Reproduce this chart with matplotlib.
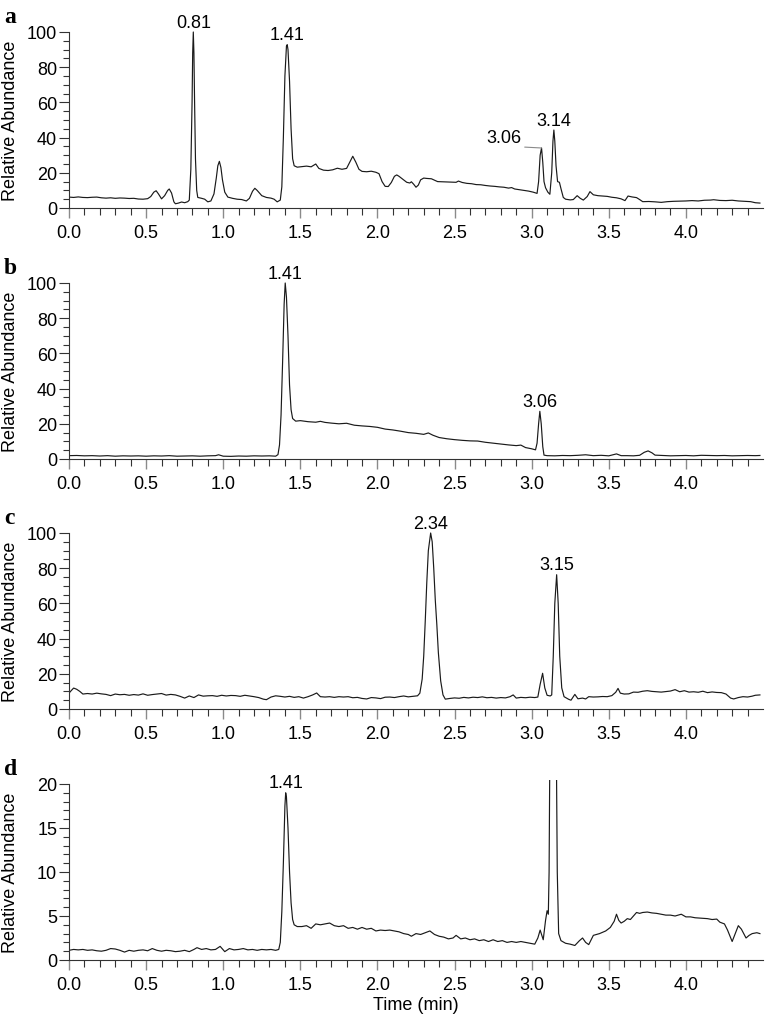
import numpy as np
import matplotlib.pyplot as plt
from matplotlib.ticker import FixedLocator

plt.rcParams['font.family'] = ['Liberation Sans', 'DejaVu Sans']

# chromatogram traces, (time in min, relative abundance)
trace_a = np.array([
    (0.00, 6.2), (0.03, 6.0), (0.06, 6.3), (0.09, 6.0), (0.12, 5.9), (0.15, 6.1),
    (0.18, 6.2), (0.21, 5.8), (0.24, 5.6), (0.27, 5.8), (0.30, 5.5), (0.33, 5.7),
    (0.36, 5.6), (0.39, 5.4), (0.42, 5.5), (0.45, 5.1), (0.48, 5.0), (0.51, 5.3),
    (0.53, 6.5), (0.55, 9.0), (0.565, 9.8), (0.58, 8.0), (0.60, 5.2), (0.62, 7.0),
    (0.64, 10.0), (0.65, 10.8), (0.665, 8.5), (0.68, 3.5), (0.69, 2.4), (0.71, 2.8),
    (0.73, 3.4), (0.75, 3.0), (0.77, 3.6), (0.78, 4.5), (0.79, 22), (0.798, 60),
    (0.802, 88), (0.806, 100), (0.810, 88), (0.814, 62), (0.82, 28), (0.828, 10),
    (0.835, 6.0), (0.86, 5.5), (0.88, 5.0), (0.90, 3.5), (0.92, 4.0), (0.94, 8.0),
    (0.955, 17), (0.965, 24), (0.975, 26.5), (0.985, 23), (0.995, 16), (1.01, 9.0),
    (1.03, 6.2), (1.06, 5.5), (1.09, 5.0), (1.12, 4.8), (1.15, 4.0), (1.17, 5.5),
    (1.19, 9.5), (1.205, 11.2), (1.22, 10.0), (1.25, 7.0), (1.28, 6.0), (1.31, 5.6),
    (1.33, 5.0), (1.35, 3.5), (1.37, 4.5), (1.38, 12), (1.39, 40), (1.40, 75),
    (1.41, 92), (1.415, 92.8), (1.42, 90), (1.43, 72), (1.44, 45), (1.45, 28),
    (1.46, 24), (1.48, 23.2), (1.51, 23.5), (1.54, 23.8), (1.57, 23.4), (1.60, 25),
    (1.62, 22.5), (1.65, 21.5), (1.68, 21.3), (1.71, 21.7), (1.74, 22.6), (1.77, 22.0),
    (1.80, 22.5), (1.82, 26), (1.84, 29.4), (1.86, 26), (1.88, 22), (1.90, 20.8),
    (1.93, 20.6), (1.96, 20.9), (1.99, 20.3), (2.01, 19.5), (2.03, 15), (2.05, 12.3),
    (2.07, 12.2), (2.09, 14.5), (2.11, 18.0), (2.125, 18.8), (2.14, 18.0), (2.17, 16.0),
    (2.19, 14.6), (2.21, 14.2), (2.22, 14.9), (2.235, 13.5), (2.25, 11.8), (2.265, 13.0),
    (2.28, 16.0), (2.30, 17.0), (2.32, 16.8), (2.35, 16.6), (2.37, 15.8), (2.39, 15.0),
    (2.42, 14.9), (2.45, 14.8), (2.48, 14.7), (2.51, 14.6), (2.525, 15.3), (2.55, 14.5),
    (2.58, 14.0), (2.61, 13.8), (2.64, 13.3), (2.67, 13.2), (2.70, 12.8), (2.73, 12.5),
    (2.76, 12.3), (2.79, 12.0), (2.82, 11.8), (2.85, 11.3), (2.87, 11.6), (2.89, 10.8),
    (2.92, 10.4), (2.95, 10.0), (2.98, 9.6), (3.01, 9.0), (3.035, 8.3), (3.045, 15),
    (3.055, 30), (3.064, 34.1), (3.072, 26), (3.08, 15), (3.09, 11.5), (3.105, 9),
    (3.118, 7.8), (3.13, 20), (3.138, 38), (3.144, 44.3), (3.15, 38), (3.158, 24),
    (3.168, 15), (3.18, 14.6), (3.19, 11), (3.205, 6), (3.22, 5.0), (3.25, 4.6),
    (3.27, 4.8), (3.295, 7.0), (3.315, 5.5), (3.335, 4.5), (3.36, 6.5), (3.378, 9.3),
    (3.40, 7.5), (3.43, 7.0), (3.46, 6.8), (3.49, 6.6), (3.52, 6.1), (3.55, 5.8),
    (3.58, 5.2), (3.605, 4.2), (3.625, 6.8), (3.65, 6.3), (3.68, 5.9), (3.70, 4.8),
    (3.72, 3.6), (3.76, 3.7), (3.80, 3.5), (3.84, 3.2), (3.88, 3.6), (3.92, 3.8),
    (3.96, 3.9), (4.00, 4.0), (4.04, 4.2), (4.08, 4.0), (4.12, 4.4), (4.16, 4.5),
    (4.18, 4.7), (4.22, 4.3), (4.26, 4.2), (4.30, 4.4), (4.34, 4.0), (4.38, 3.8),
    (4.42, 3.6), (4.45, 3.0), (4.48, 2.8),
])

trace_b = np.array([
    (0.00, 1.9), (0.05, 2.0), (0.10, 1.8), (0.15, 1.9), (0.20, 1.7), (0.25, 1.9),
    (0.30, 1.6), (0.35, 1.8), (0.40, 1.7), (0.45, 1.8), (0.50, 1.6), (0.55, 1.8),
    (0.60, 1.7), (0.65, 1.9), (0.70, 1.6), (0.75, 1.7), (0.80, 1.8), (0.85, 1.6),
    (0.90, 1.8), (0.95, 1.9), (0.97, 2.4), (1.00, 1.6), (1.05, 1.5), (1.10, 1.7),
    (1.15, 1.6), (1.20, 1.8), (1.25, 1.7), (1.30, 1.8), (1.34, 1.6), (1.355, 2.5),
    (1.365, 8), (1.375, 25), (1.385, 55), (1.395, 88), (1.402, 100), (1.41, 92),
    (1.42, 70), (1.43, 42), (1.44, 28), (1.45, 23), (1.47, 21.5), (1.50, 21.8),
    (1.55, 21.2), (1.60, 20.9), (1.63, 21.4), (1.66, 20.8), (1.70, 20.4), (1.75, 20.0),
    (1.80, 20.3), (1.85, 19.2), (1.90, 18.8), (1.95, 18.5), (2.00, 18.0), (2.05, 17.0),
    (2.10, 16.5), (2.15, 15.8), (2.20, 15.0), (2.25, 14.6), (2.30, 14.0), (2.33, 14.8),
    (2.36, 13.5), (2.40, 12.2), (2.45, 11.5), (2.50, 11.0), (2.55, 10.6), (2.60, 10.3),
    (2.65, 10.2), (2.70, 9.5), (2.75, 9.0), (2.80, 8.5), (2.85, 8.0), (2.90, 7.6),
    (2.93, 7.9), (2.96, 6.5), (3.00, 5.8), (3.025, 5.2), (3.035, 9), (3.045, 20),
    (3.053, 27.1), (3.062, 20), (3.072, 7), (3.08, 2.2), (3.10, 1.9), (3.15, 1.8),
    (3.20, 2.0), (3.25, 1.9), (3.30, 2.1), (3.35, 2.4), (3.40, 1.9), (3.45, 2.1),
    (3.50, 1.8), (3.55, 2.9), (3.58, 1.9), (3.62, 1.9), (3.66, 1.8), (3.70, 2.1),
    (3.73, 3.8), (3.755, 4.6), (3.78, 3.5), (3.80, 2.2), (3.85, 2.0), (3.90, 1.8),
    (3.95, 1.9), (4.00, 2.0), (4.05, 1.8), (4.10, 2.1), (4.15, 2.0), (4.20, 1.9),
    (4.25, 2.0), (4.30, 1.8), (4.35, 1.9), (4.40, 2.0), (4.45, 1.9), (4.48, 2.0),
])

trace_c = np.array([
    (0.00, 9.0), (0.015, 10.5), (0.03, 11.9), (0.05, 11.2), (0.07, 10.0), (0.09, 8.5),
    (0.12, 8.8), (0.15, 8.5), (0.18, 9.0), (0.21, 8.6), (0.24, 8.3), (0.27, 7.6),
    (0.30, 8.5), (0.33, 8.1), (0.36, 8.3), (0.39, 7.8), (0.42, 8.2), (0.45, 7.9),
    (0.48, 8.6), (0.51, 7.8), (0.54, 8.2), (0.57, 8.5), (0.60, 8.8), (0.63, 7.9),
    (0.66, 8.3), (0.69, 8.0), (0.72, 7.2), (0.75, 6.2), (0.78, 7.4), (0.81, 6.5),
    (0.84, 8.0), (0.87, 7.3), (0.90, 7.5), (0.93, 7.6), (0.96, 7.2), (0.99, 7.8),
    (1.02, 7.4), (1.05, 7.7), (1.08, 7.6), (1.11, 7.2), (1.14, 7.8), (1.17, 7.4),
    (1.20, 7.0), (1.23, 6.5), (1.26, 5.6), (1.28, 5.3), (1.31, 6.8), (1.34, 7.5),
    (1.37, 7.2), (1.40, 6.8), (1.43, 7.2), (1.46, 6.6), (1.49, 7.0), (1.52, 6.2),
    (1.55, 7.0), (1.58, 8.0), (1.606, 9.1), (1.63, 7.0), (1.66, 6.8), (1.69, 7.0),
    (1.72, 6.6), (1.75, 7.0), (1.78, 6.8), (1.81, 7.0), (1.84, 6.4), (1.87, 6.6),
    (1.90, 6.0), (1.93, 5.7), (1.96, 6.5), (1.99, 6.3), (2.02, 5.9), (2.05, 6.7),
    (2.08, 6.8), (2.11, 6.5), (2.14, 7.0), (2.17, 7.4), (2.20, 6.9), (2.23, 7.2),
    (2.26, 7.5), (2.275, 9), (2.29, 17), (2.30, 30), (2.31, 50), (2.32, 72),
    (2.33, 90), (2.345, 100), (2.355, 95), (2.365, 80), (2.375, 62), (2.385, 48),
    (2.395, 32), (2.41, 16), (2.425, 8), (2.44, 5.6), (2.47, 6.0), (2.50, 6.3),
    (2.53, 6.1), (2.56, 6.6), (2.59, 6.3), (2.62, 6.7), (2.65, 6.5), (2.68, 6.9),
    (2.71, 6.4), (2.74, 6.6), (2.77, 6.2), (2.80, 6.5), (2.83, 6.3), (2.86, 7.0),
    (2.88, 8.0), (2.90, 6.2), (2.93, 6.6), (2.96, 6.4), (2.99, 6.7), (3.02, 6.5),
    (3.04, 6.8), (3.055, 14), (3.071, 20.3), (3.085, 12), (3.10, 7.8), (3.12, 7.4),
    (3.13, 8), (3.14, 30), (3.15, 60), (3.162, 76.3), (3.172, 60), (3.182, 30),
    (3.195, 12), (3.21, 7), (3.24, 5.5), (3.255, 5.0), (3.28, 8.3), (3.30, 5.8),
    (3.33, 6.2), (3.35, 5.7), (3.37, 7.0), (3.40, 6.8), (3.43, 6.9), (3.46, 7.1),
    (3.49, 7.0), (3.52, 7.6), (3.545, 9.5), (3.56, 11.7), (3.575, 9.0), (3.60, 8.5),
    (3.63, 8.6), (3.66, 9.6), (3.69, 9.5), (3.72, 10.1), (3.75, 10.4), (3.78, 10.0),
    (3.81, 9.8), (3.84, 9.6), (3.87, 9.9), (3.90, 10.2), (3.93, 11.0), (3.96, 9.8),
    (3.99, 10.4), (4.02, 9.6), (4.05, 9.8), (4.08, 9.5), (4.11, 10.1), (4.14, 9.3),
    (4.17, 9.7), (4.20, 9.4), (4.23, 9.3), (4.26, 8.5), (4.29, 6.2), (4.31, 5.7),
    (4.34, 6.5), (4.37, 7.0), (4.40, 6.8), (4.43, 7.3), (4.45, 7.8), (4.48, 8.0),
])

trace_d = np.array([
    (0.00, 1.1), (0.03, 1.2), (0.06, 1.15), (0.09, 1.2), (0.12, 1.1), (0.15, 1.15),
    (0.18, 1.05), (0.21, 1.0), (0.24, 1.1), (0.27, 1.3), (0.30, 1.25), (0.33, 1.1),
    (0.36, 0.9), (0.39, 1.1), (0.42, 1.0), (0.45, 1.1), (0.48, 1.15), (0.51, 1.05),
    (0.54, 1.3), (0.57, 1.1), (0.60, 1.0), (0.63, 1.1), (0.66, 1.05), (0.69, 0.95),
    (0.72, 1.0), (0.75, 1.1), (0.78, 0.95), (0.81, 1.2), (0.83, 1.4), (0.86, 1.2),
    (0.89, 1.3), (0.92, 1.15), (0.95, 1.2), (0.98, 1.55), (1.01, 0.95), (1.04, 1.3),
    (1.07, 1.15), (1.10, 1.2), (1.13, 1.3), (1.16, 1.15), (1.19, 1.2), (1.22, 1.1),
    (1.25, 1.2), (1.28, 1.15), (1.31, 1.2), (1.34, 1.1), (1.36, 1.2), (1.37, 2.0),
    (1.38, 5.5), (1.39, 11), (1.40, 17.5), (1.405, 19), (1.41, 18.5), (1.42, 15),
    (1.43, 10), (1.44, 6.5), (1.45, 4.6), (1.46, 4.0), (1.48, 3.8), (1.51, 3.8),
    (1.54, 3.9), (1.57, 3.6), (1.60, 4.1), (1.63, 4.0), (1.66, 4.1), (1.69, 4.2),
    (1.72, 3.9), (1.75, 3.8), (1.78, 3.9), (1.81, 3.6), (1.84, 3.7), (1.87, 3.5),
    (1.90, 3.7), (1.93, 3.5), (1.96, 3.6), (1.99, 3.3), (2.02, 3.4), (2.05, 3.35),
    (2.08, 3.4), (2.11, 3.3), (2.14, 3.2), (2.17, 3.0), (2.20, 2.9), (2.22, 2.7),
    (2.25, 3.0), (2.28, 2.9), (2.31, 3.1), (2.34, 3.3), (2.37, 2.9), (2.40, 2.7),
    (2.43, 2.6), (2.46, 2.4), (2.49, 2.5), (2.51, 2.8), (2.54, 2.4), (2.57, 2.5),
    (2.60, 2.3), (2.63, 2.4), (2.66, 2.2), (2.69, 2.3), (2.72, 2.1), (2.75, 2.3),
    (2.78, 2.1), (2.81, 2.2), (2.84, 2.0), (2.87, 2.1), (2.90, 2.0), (2.93, 2.1),
    (2.96, 2.0), (2.99, 1.9), (3.02, 1.8), (3.04, 2.5), (3.055, 3.4), (3.075, 2.3),
    (3.09, 4.5), (3.10, 5.6), (3.108, 5.2), (3.113, 10), (3.118, 24), (3.14, 50),
    (3.16, 24), (3.166, 10), (3.175, 3), (3.19, 2.2), (3.22, 1.9), (3.25, 1.8),
    (3.28, 1.65), (3.31, 2.2), (3.33, 2.5), (3.35, 2.0), (3.37, 1.75), (3.40, 2.8),
    (3.44, 3.0), (3.48, 3.3), (3.51, 3.7), (3.535, 4.4), (3.55, 5.2), (3.565, 4.5),
    (3.58, 4.2), (3.60, 4.4), (3.62, 4.7), (3.64, 4.6), (3.66, 5.0), (3.68, 5.4),
    (3.70, 5.3), (3.72, 5.4), (3.75, 5.45), (3.78, 5.35), (3.81, 5.3), (3.84, 5.2),
    (3.87, 5.1), (3.90, 5.1), (3.93, 5.0), (3.97, 5.2), (4.00, 4.9), (4.03, 4.9),
    (4.06, 4.8), (4.10, 4.75), (4.14, 4.7), (4.17, 4.6), (4.20, 4.65), (4.22, 4.3),
    (4.25, 4.1), (4.27, 3.4), (4.30, 2.1), (4.32, 3.0), (4.34, 3.9), (4.36, 3.5),
    (4.39, 2.5), (4.41, 2.8), (4.43, 3.0), (4.46, 3.1), (4.48, 3.0),
])

# peak labels: (label, time, height)
peaks_a = [('0.81', 0.806, 100), ('1.41', 1.415, 92.8), ('3.14', 3.144, 44.3)]
peaks_b = [('1.41', 1.402, 100), ('3.06', 3.053, 27.1)]
peaks_c = [('2.34', 2.345, 100), ('3.15', 3.162, 76.3)]
peaks_d = [('1.41', 1.405, 19)]

W, H = 767, 1020
fig = plt.figure(figsize=(W / 100, H / 100), dpi=100)

panels = [
    ('a', trace_a, peaks_a, 209, 100, 20, 5),
    ('b', trace_b, peaks_b, 460, 100, 20, 5),
    ('c', trace_c, peaks_c, 710, 100, 20, 5),
    ('d', trace_d, peaks_d, 961, 20, 5, 1),
]
px_full = 176.0  # pixels from 0 to full scale

axes = []
for letter, tr, peaks, y0, ymax, ystep, yminor in panels:
    ytop = ymax * 1.025
    ax = fig.add_axes([69 / W, 1 - y0 / H, 694 / W, px_full * 1.025 / H])
    ax.plot(tr[:, 0], tr[:, 1], color='#1a1a1a', lw=0.85)
    ax.set_xlim(0, 4.5)
    ax.set_ylim(0, ytop)
    for s in ['top', 'right']:
        ax.spines[s].set_visible(False)
    ax.spines['left'].set_bounds(0, ymax)
    ax.spines['left'].set_color('#333333')
    ax.spines['bottom'].set_color('#333333')
    ax.set_xticks(np.arange(0, 4.01, 0.5))
    ax.set_xticklabels(['%.1f' % v for v in np.arange(0, 4.01, 0.5)])
    ax.xaxis.set_minor_locator(FixedLocator(np.arange(0, 4.45, 0.1)))
    ax.set_yticks(np.arange(0, ymax + 1, ystep))
    ax.yaxis.set_minor_locator(FixedLocator(np.arange(0, ymax + 0.1, yminor)))
    ax.tick_params(axis='x', which='major', length=7.5, width=1.0, color='#8a8a8a',
                   pad=4, labelsize=13)
    ax.tick_params(axis='x', which='minor', length=5, width=0.8, color='#333333')
    ax.tick_params(axis='y', which='major', length=7.5, width=0.8, color='#333333',
                   pad=1, labelsize=13)
    ax.tick_params(axis='y', which='minor', length=4.5, width=0.8, color='#333333')
    for lbl, t, v in peaks:
        ax.annotate(lbl, (t, v), xytext=(0, 1), textcoords='offset points',
                    ha='center', va='bottom', fontsize=13)

    fig.text(4 / W, 1 - (y0 - 186) / H, letter, fontfamily=['Liberation Serif', 'DejaVu Serif'],
             fontweight='bold', fontsize=17, va='baseline', ha='left')
    fig.text(11 / W, 1 - (y0 - 88) / H, 'Relative Abundance', rotation=90,
             ha='center', va='center', fontsize=13)
    axes.append(ax)

# 3.06 in panel a is set off to the left with a leader line
axes[0].annotate('3.06', xy=(3.064, 34.1), xytext=(2.823, 35.2), ha='center', va='bottom',
                 fontsize=13,
                 arrowprops=dict(arrowstyle='-', color='#8a8a8a', lw=0.8,
                                 relpos=(0.5, 0), shrinkA=0, shrinkB=0))

fig.text(416 / W, 1 - 1006 / H, 'Time (min)', ha='center', va='center', fontsize=13)

fig.savefig('out.png', dpi=100)
